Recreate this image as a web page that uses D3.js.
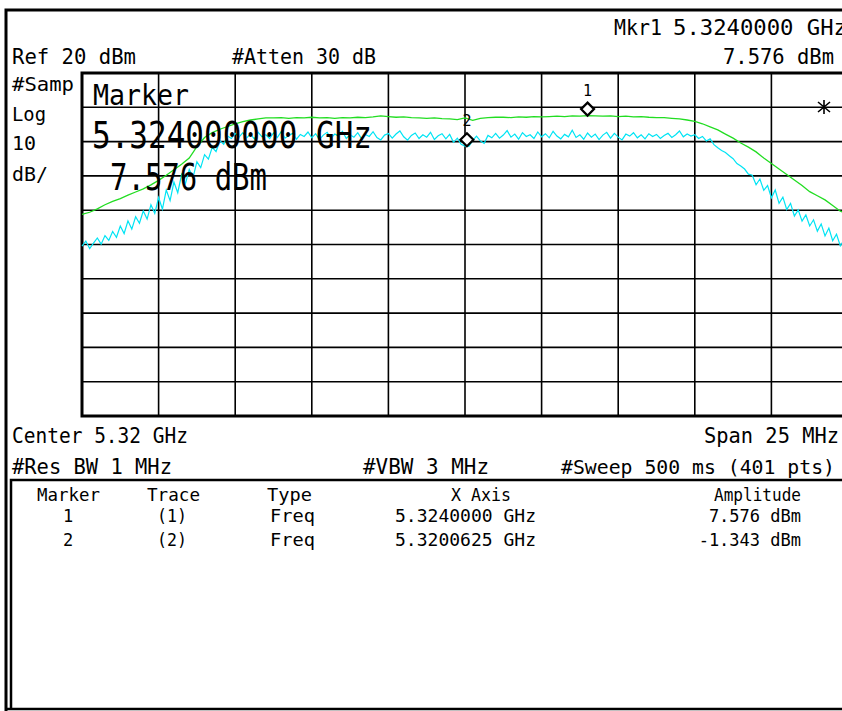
<!DOCTYPE html>
<html>
<head>
<meta charset="utf-8">
<script src="https://cdn.jsdelivr.net/npm/d3@7"></script>
<style>
  html, body { margin: 0; padding: 0; background: #fff; overflow: hidden; }
  text { font-family: "DejaVu Sans Mono", monospace; fill: #000; }
</style>
</head>
<body>
<div id="chart"></div>
<script>
// sweep settings
const centerGHz = 5.32;
const spanGHz = 0.025;
const refLevel = 20;     // dBm
const dbPerDiv = 10;

// trace 1 (green), 101 sweep points, dBm
const trace1 = [
  -21.2, -20.6, -19.6, -18.4, -17.4, -16.6, -15.6, -14.7, -13.8, -12.6,
  -11.3, -9.8, -8.2, -6.6, -4.8, -1.5, 1.2, 2.6, 3.6, 4.4,
  5.2, 5.8, 6.3, 6.6, 6.9, 6.9, 7.0, 6.8, 7.0, 6.9,
  7.1, 6.9, 7.0, 6.8, 7.0, 6.9, 7.1, 7.0, 7.2, 7.5,
  7.3, 7.1, 7.2, 7.0, 6.9, 6.8, 6.9, 6.7, 6.6, 6.4,
  6.9, 6.2, 6.8, 7.0, 7.1, 7.1, 7.0, 7.2, 7.1, 7.3,
  7.2, 7.3, 7.4, 7.3, 7.5, 7.4, 7.6, 7.5, 7.4, 7.5,
  7.3, 7.4, 7.2, 7.3, 7.1, 7.0, 7.0, 6.8, 6.6, 6.3,
  5.9, 5.2, 4.3, 3.4, 2.2, 1.0, -0.4, -1.6, -3.0, -4.8,
  -6.4, -8.0, -9.6, -11.2, -12.8, -14.6, -15.8, -17.0, -18.6, -20.3,
  -21.0
];

// trace 2 (cyan), 201 sweep points, dBm
const trace2 = [
  -30.5, -29.0, -31.2, -29.6, -28.1, -29.9, -27.4, -28.8, -26.2, -27.9,
  -24.6, -26.8, -23.1, -25.5, -21.9, -23.8, -20.2, -22.6, -18.4, -20.9,
  -16.3, -19.7, -14.1, -17.2, -11.8, -14.9, -9.6, -12.3, -8.1, -10.4,
  -5.9, -7.6, -3.8, -5.1, -1.7, -2.9, 0.2, -0.8, 1.6, 0.9,
  2.4, 1.3, 2.6, 1.1, 2.2, 0.8, 2.7, 1.4, 2.0, 0.9,
  2.5, 1.2, 2.9, 1.0, 1.8, 2.4, 0.7, 2.1, 1.5, 2.8,
  1.1, 2.3, 0.6, 1.9, 2.7, 1.0, 2.2, 1.6, 3.0, 0.9,
  2.0, 1.3, 2.6, 0.8, 2.1, 1.5, 2.9, 1.2, 0.5, 1.9,
  2.4, 1.0, 2.2, 3.1, 1.4, 0.4, 1.8, 2.5, 0.9, 2.0,
  1.3, 2.7, 0.6, 1.7, 2.3, 0.8, 2.1, -0.2, 1.0, -0.8,
  -1.3, -1.4, 0.3, 1.6, 0.2, -0.5, 1.8, 1.1, 2.4, 1.0,
  1.9, 3.2, 1.3, 2.2, 0.7, 2.6, 1.5, 2.0, 0.9, 2.8,
  1.4, 2.3, 1.1, 3.0, 1.6, 0.8, 2.1, 1.4, 3.3, 1.2,
  2.0, 0.7, 2.5, 1.3, 2.2, 0.6, 1.9, 2.7, 1.0, 2.4,
  1.3, 0.5, 2.2, 1.6, 2.6, 1.1, 2.0, 0.8, 2.3, 1.5,
  2.1, 0.9, 1.8, 2.4, 1.2, 2.0, 3.1, 1.4, 2.2, 1.6,
  2.0, 0.9, 1.5, 0.2, 0.8, -0.9, -1.8, -2.6, -3.2, -4.1,
  -5.0, -6.4, -7.1, -8.0, -9.5, -9.8, -12.6, -10.9, -14.2, -12.8,
  -16.4, -14.1, -18.0, -16.2, -19.8, -18.0, -21.7, -19.9, -23.2, -21.4,
  -24.6, -22.8, -26.1, -24.0, -27.5, -25.2, -28.9, -27.0, -30.4, -28.6,
  -31.2
];

// marker table
const markerIds = ["1", "2"];
const markerTraces = ["(1)", "(2)"];
const markerTypes = ["Freq", "Freq"];
const markerFreqs = [5.324, 5.3200625];
const markerAmps = [7.576, -1.343];
const markerFreqText = ["5.3240000 GHz", "5.3200625 GHz"];
const markerAmpText = ["7.576 dBm", "-1.343 dBm"];

const W = 842, H = 711;
const svg = d3.select("#chart").append("svg")
  .attr("width", W).attr("height", H);

const x = d3.scaleLinear()
  .domain([centerGHz - spanGHz / 2, centerGHz + spanGHz / 2])
  .range([82, 848]);
const y = d3.scaleLinear()
  .domain([refLevel - 10 * dbPerDiv, refLevel])
  .range([416, 73]);

// outer frames
svg.append("path")
  .attr("d", "M6,715 V10 H850")
  .attr("fill", "none").attr("stroke", "#000").attr("stroke-width", 3);
svg.append("path")
  .attr("d", "M6,709 H850")
  .attr("fill", "none").attr("stroke", "#000").attr("stroke-width", 2.5);
svg.append("path")
  .attr("d", "M11,709 V480 H850")
  .attr("fill", "none").attr("stroke", "#000").attr("stroke-width", 2.5);

// graticule
const xLines = d3.range(11).map(k => x.domain()[0] + k * spanGHz / 10);
const yLines = y.ticks(10);
const grid = svg.append("g");
grid.selectAll(".vl").data(xLines).enter().append("line")
  .attr("x1", d => x(d)).attr("x2", d => x(d))
  .attr("y1", y.range()[1]).attr("y2", y.range()[0])
  .attr("stroke", "#000").attr("stroke-width", 1.6);
grid.selectAll(".hl").data(yLines).enter().append("line")
  .attr("x1", x.range()[0]).attr("x2", x.range()[1])
  .attr("y1", d => y(d)).attr("y2", d => y(d))
  .attr("stroke", "#000").attr("stroke-width", 1.6);
grid.append("path")
  .attr("d", `M${x.range()[1]},${y(refLevel)} H${x.range()[0]} V${y.range()[0]} H${x.range()[1]}`)
  .attr("fill", "none").attr("stroke", "#000").attr("stroke-width", 3);

// traces
const plot = svg.append("g");
function sweepLine(vals) {
  const step = spanGHz / (vals.length - 1);
  return d3.line()
    .x((d, i) => x(x.domain()[0] + i * step))
    .y(d => y(d))(vals);
}
plot.append("path").attr("d", sweepLine(trace1))
  .attr("fill", "none").attr("stroke", "#22dd22").attr("stroke-width", 1.3);
plot.append("path").attr("d", sweepLine(trace2))
  .attr("fill", "none").attr("stroke", "#00e4f4").attr("stroke-width", 1.2);

// markers (diamond sits on top of the point)
const mk = plot.selectAll(".mk").data(markerIds).enter().append("g")
  .attr("transform", (d, i) => `translate(${x(markerFreqs[i])},${y(markerAmps[i])})`);
mk.append("path")
  .attr("d", "M0,-13 L6.5,-6.5 L0,0 L-6.5,-6.5 Z")
  .attr("fill", "#fff").attr("stroke", "#000").attr("stroke-width", 2.2);
mk.append("text")
  .attr("x", 0).attr("y", -20)
  .attr("text-anchor", "middle")
  .style("font-size", "15px")
  .text(d => d);

// asterisk indicator at right
svg.append("path")
  .attr("d", "M824,100 V114 M818,102 L830,112 M830,102 L818,112")
  .attr("stroke", "#000").attr("stroke-width", 1.6);

function label(txt, px, py, size, len) {
  const t = svg.append("text")
    .attr("x", px).attr("y", py)
    .style("font-size", size + "px")
    .text(txt);
  if (len) t.attr("textLength", len).attr("lengthAdjust", "spacingAndGlyphs");
  return t;
}

// header annotations
label("Mkr1", 614, 35, 21, 48);
label("5.3240000 GHz", 673, 35, 21, 174);
label("7.576 dBm", 723, 64, 21, 111);
label("Ref 20 dBm", 12, 64, 21, 124);
label("#Atten 30 dB", 232, 64, 21, 144);
label("#Samp", 12, 91, 20, 62);
label("Log", 12, 121, 20, 34);
label("10", 12, 150, 20, 24);
label("dB/", 12, 181, 20, 36);

// big marker readout on the graticule
label("Marker", 93, 105, 28, 96);
label("5.324000000 GHz", 92, 148, 37, 280);
label("7.576 dBm", 110, 190, 37, 157);

// footer
label("Center 5.32 GHz", 12, 443, 21, 176);
label("Span 25 MHz", 704, 443, 21, 135);
label("#Res BW 1 MHz", 12, 474, 21, 160);
label("#VBW 3 MHz", 363, 474, 21, 126);
label("#Sweep 500 ms (401 pts)", 561, 474, 19.5, 274);

// marker table
label("Marker", 37, 501, 17, 63);
label("Trace", 147, 501, 17, 53);
label("Type", 267, 501, 17, 45);
label("X Axis", 451, 501, 17, 60);
label("Amplitude", 714, 501, 17, 87);

const rowY = [522, 546];
markerIds.forEach((id, i) => {
  label(id, 68, rowY[i], 17).attr("text-anchor", "middle");
  label(markerTraces[i], 157, rowY[i], 17, 30);
  label(markerTypes[i], 270, rowY[i], 17, 45);
  label(markerFreqText[i], 395, rowY[i], 17, 141);
  label(markerAmpText[i], 801, rowY[i], 17).attr("text-anchor", "end");
});
</script>
</body>
</html>
